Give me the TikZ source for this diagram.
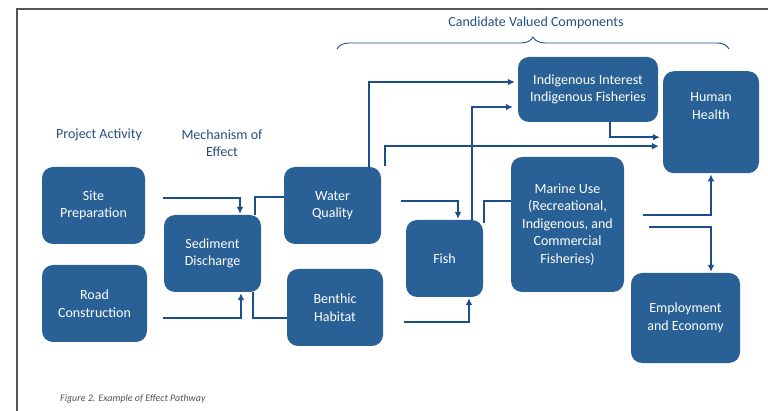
\documentclass[tikz,border=0pt]{standalone}
\usepackage{fontspec}
\setmainfont{Carlito}
\usepackage{tikz}
\usetikzlibrary{arrows.meta}
\usetikzlibrary{positioning}
\usetikzlibrary{decorations.pathreplacing}
\definecolor{boxblue}{RGB}{41, 97, 150}
\definecolor{lineblue}{RGB}{28, 78, 140}
\definecolor{hdrblue}{RGB}{36, 80, 128}
\definecolor{framegray}{RGB}{85, 85, 85}
\tikzset{vcbox/.style = {rounded corners=11pt, fill=boxblue, text=white, align=center,
                         inner sep=0pt, font=\fontsize{14}{17.5}\selectfont}}
\tikzset{hdr/.style = {text=hdrblue, align=center, inner sep=0pt,
                       font=\fontsize{14}{17.5}\selectfont}}
\tikzset{link/.style = {draw=lineblue, line width=1.4pt}}
\tikzset{arr/.style = {link, -{Latex[length=7pt, width=7pt]}, shorten >=1pt}}

\begin{document}
\begin{tikzpicture}[x=1pt, y=-1pt]
    \useasboundingbox (0, 0) rectangle (768, 411);

    \draw [framegray, line width=1.3pt] (17, 411) -- (17, 9) -- (768, 9);

    % headings
    \node [hdr] (pa) at (99, 135) {Project Activity};
    \node [hdr] (me) at (222, 143) {Mechanism of\\Effect};
    \node [hdr] (cvc) at (536, 23) {Candidate Valued Components};
    \draw [lineblue, line width=0.9pt, decorate, decoration={brace, amplitude=12pt}] (337, 49) -- (729, 49);

    % boxes
    \node [vcbox, minimum width=103, minimum height=77] (site) at (93.5, 205.5) {Site\\Preparation};
    \node [vcbox, minimum width=105, minimum height=77] (road) at (94.5, 303.5) {Road\\Construction};
    \node [vcbox, minimum width=97, minimum height=77] (sed) at (212.5, 253.5) {Sediment\\Discharge};
    \node [vcbox, minimum width=97, minimum height=77] (wq) at (332.5, 205.5) {Water\\Quality};
    \node [vcbox, minimum width=96, minimum height=77] (ben) at (335, 307.5) {Benthic\\Habitat};
    \node [vcbox, minimum width=77, minimum height=77] (fish) at (444.5, 258.5) {Fish};
    \node [vcbox, minimum width=140, minimum height=65] (ind) at (588, 89.5) {Indigenous Interest\\Indigenous Fisheries};
    \node [vcbox, minimum width=113, minimum height=135] (mar) at (567.5, 224.5) {Marine Use\\(Recreational,\\Indigenous, and\\Commercial\\Fisheries)};
    \node [vcbox, minimum width=96, minimum height=102, anchor=north] (hh) at (711, 71) {Human\\Health\\[14.5pt]\mbox{}};
    \node [vcbox, minimum width=109, minimum height=90] (emp) at (685.5, 318) {Employment\\and Economy};

    % loose ends
    \coordinate (sp0) at (163, 198);
    \coordinate (rc0) at (163, 318);
    \coordinate (wq1) at (385, 166);
    \coordinate (wq2) at (401, 201);
    \coordinate (bh0) at (404, 322);
    \coordinate (mu1) at (643, 215);
    \coordinate (mu2) at (649, 227);

    % pathways
    \draw [arr] (sp0) -| ([xshift=27.5pt]sed.north);
    \draw [arr] (rc0) -| ([xshift=28.5pt]sed.south);
    \draw [link] ([xshift=42.5pt]sed.north) |- ([yshift=8.5pt]wq.west);
    \draw [link] ([xshift=40.5pt]sed.south) |- ([yshift=-10.5pt]ben.west);

    \draw [arr, shorten >=3pt] ([xshift=36.5pt]wq.north) |- ([yshift=7.5pt]ind.west);
    \draw [arr, shorten >=4pt] (wq1) |- ([yshift=-24pt]hh.west);
    \draw [arr, shorten >=3pt] ([xshift=22pt]ind.south) |- ([yshift=-15pt]hh.west);

    \draw [arr] (wq2) -| ([xshift=13.5pt]fish.north);
    \draw [arr] (bh0) -| ([xshift=24.5pt]fish.south);
    \draw [arr, shorten >=5pt] ([xshift=27.5pt]fish.north) |- ([yshift=-17.5pt]ind.west);
    \draw [link] ([xshift=39.5pt, yshift=-3pt]fish.north) |- ([yshift=23.5pt]mar.west);

    \draw [arr] (mu1) -| (hh.south);
    \draw [arr] (mu2) -| ([xshift=25.5pt]emp.north);

    \node [anchor=west, inner sep=0pt, text=framegray, font=\fontsize{10}{12}\selectfont\itshape] (cap) at (60, 399) {Figure 2. Example of Effect Pathway};
  \end{tikzpicture}
\end{document}
